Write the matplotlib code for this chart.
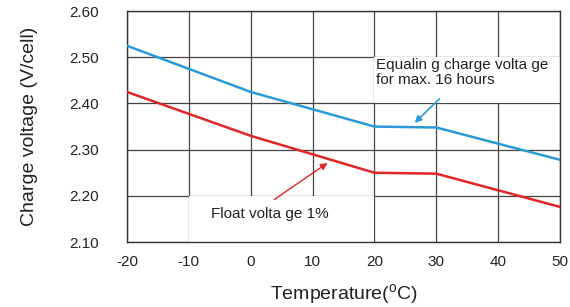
import matplotlib
matplotlib.use("Agg")
import matplotlib.pyplot as plt
from matplotlib.patches import Rectangle

plt.rcParams["font.family"] = ["Liberation Sans", "DejaVu Sans"]
plt.rcParams["mathtext.fontset"] = "custom"
plt.rcParams["mathtext.rm"] = "Liberation Sans"
plt.rcParams["axes.unicode_minus"] = False

temps = [-20, 0, 20, 30, 50]
equalizing = [2.525, 2.425, 2.35, 2.348, 2.278]
float_v = [2.425, 2.33, 2.25, 2.248, 2.176]

x_ticks = [-20, -10, 0, 10, 20, 30, 40, 50]
y_ticks = [2.10, 2.20, 2.30, 2.40, 2.50, 2.60]

fig = plt.figure(figsize=(5.7, 3.07), dpi=100)
ax = fig.add_axes([0.2228, 0.2117, 0.7597, 0.752])

ax.set_xlim(-20, 50)
ax.set_ylim(2.10, 2.60)
ax.set_xticks(x_ticks)
ax.set_xticklabels([str(t) for t in x_ticks])
ax.set_yticks(y_ticks)
ax.set_yticklabels([f"{v:.2f}" for v in y_ticks])
ax.tick_params(length=0, labelsize=11, colors="#222222")
ax.tick_params(axis="y", pad=20)
ax.tick_params(axis="x", pad=9)
ax.set_axisbelow(True)
ax.grid(True, color="#444444", linewidth=0.9)
for s in ax.spines.values():
    s.set_color("#333333")
    s.set_linewidth(1.0)

# white boxes behind the labels hide the grid
ax.add_patch(Rectangle((20, 2.40), 30, 0.10, facecolor="white", edgecolor="none", zorder=1))
ax.add_patch(Rectangle((-10, 2.10), 30, 0.10, facecolor="white", edgecolor="none", zorder=1))

ax.plot(temps, equalizing, color="#2a9ad6", linewidth=1.8, zorder=3)
ax.plot(temps, float_v, color="#e02626", linewidth=1.8, zorder=3)

ax.text(20.2, 2.443, "Equalin g charge volta ge\nfor max. 16 hours", fontsize=11,
        color="#222222", linespacing=1.05, zorder=4)
ax.annotate("", xy=(26.5, 2.358), xytext=(30.5, 2.41),
            arrowprops=dict(arrowstyle="-|>", color="#2a9ad6", lw=1.2,
                            mutation_scale=10, shrinkA=0, shrinkB=0), zorder=4)

ax.text(-6.5, 2.152, "Float volta ge 1%", fontsize=11, color="#222222", zorder=4)
ax.annotate("", xy=(12.4, 2.271), xytext=(3.8, 2.192),
            arrowprops=dict(arrowstyle="-|>", color="#e02626", lw=1.0,
                            mutation_scale=10, shrinkA=0, shrinkB=0), zorder=4)

ax.set_xlabel(r"Temperature($^{\rm o}$C)", fontsize=14, labelpad=10, color="#222222")
ax.set_ylabel("Charge voltage (V/cell)", fontsize=14, labelpad=23, color="#222222")

fig.savefig("out.png", dpi=100)
